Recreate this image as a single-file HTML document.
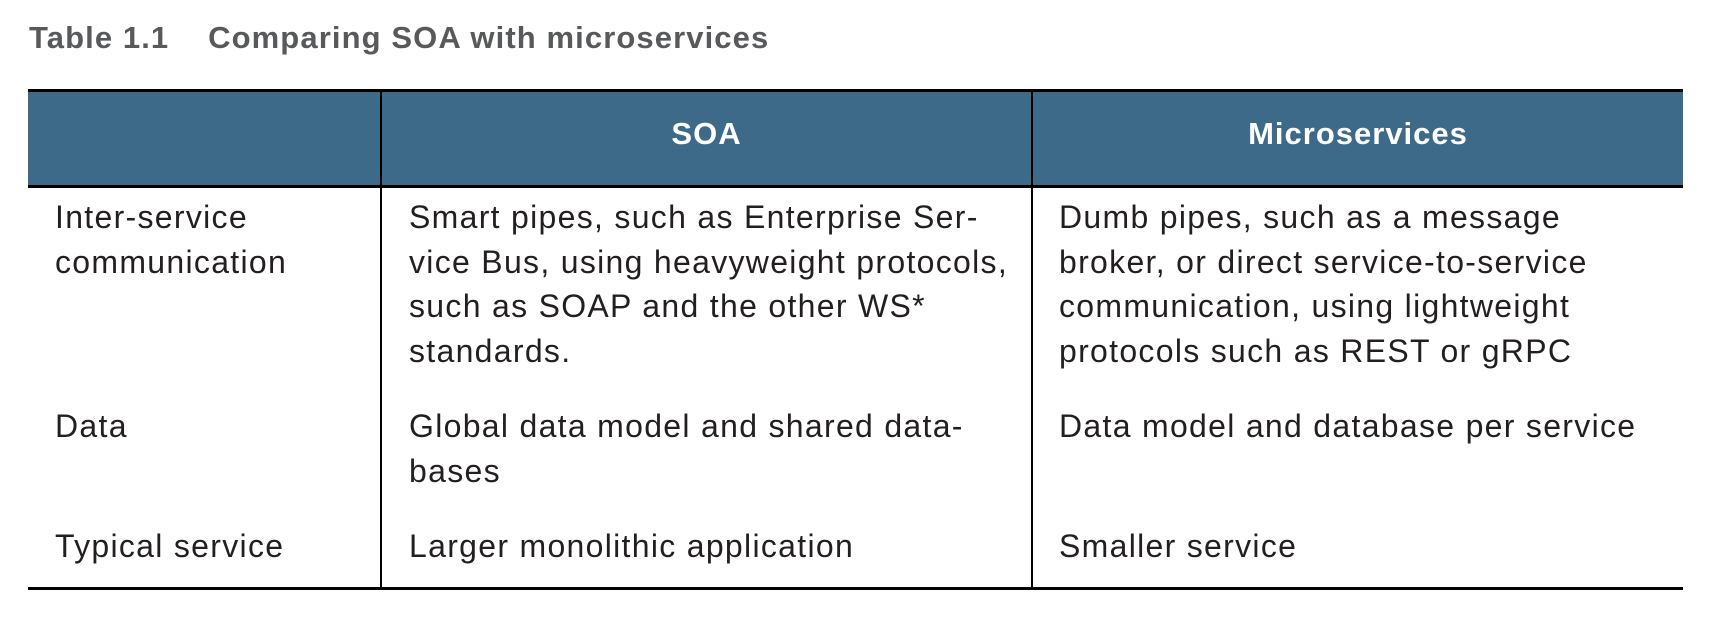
<!DOCTYPE html>
<html><head><style>
body{margin:0;width:1710px;height:618px;background:#fff;position:relative;overflow:hidden;font-family:"Liberation Sans",sans-serif;color:#231f20}
.a{position:absolute}
.t{position:absolute;font-size:32px;letter-spacing:1.3px;line-height:44.7px;white-space:nowrap}
</style></head><body>
<div class="a" style="left:29px;top:20px;font-size:31px;letter-spacing:1.1px;font-weight:bold;color:#58595b;white-space:nowrap">Table 1.1&nbsp;&nbsp;&nbsp; Comparing SOA with microservices</div>
<div class="a" style="left:28px;top:89px;width:1655px;height:93px;background:#3d6a88;border-top:3px solid #000;border-bottom:3px solid #000"></div>
<div class="a" style="left:380px;top:89px;width:2px;height:500px;background:#000"></div>
<div class="a" style="left:1031px;top:89px;width:2px;height:500px;background:#000"></div>
<div class="a" style="left:28px;top:587px;width:1655px;height:3px;background:#000"></div>
<div class="a" style="left:382px;top:116px;width:649px;text-align:center;color:#fff;font-weight:bold;font-size:31px;letter-spacing:1px">SOA</div>
<div class="a" style="left:1033px;top:116px;width:650px;text-align:center;color:#fff;font-weight:bold;font-size:31px;letter-spacing:1px">Microservices</div>
<div class="t" style="left:55px;top:195px">Inter-service<br>communication</div>
<div class="t" style="left:409px;top:195px">Smart pipes, such as Enterprise Ser-<br>vice Bus, using heavyweight protocols,<br>such as SOAP and the other WS*<br>standards.</div>
<div class="t" style="left:1059px;top:195px">Dumb pipes, such as a message<br>broker, or direct service-to-service<br>communication, using lightweight<br>protocols such as REST or gRPC</div>
<div class="t" style="left:55px;top:404px">Data</div>
<div class="t" style="left:409px;top:404px">Global data model and shared data-<br>bases</div>
<div class="t" style="left:1059px;top:404px">Data model and database per service</div>
<div class="t" style="left:55px;top:524px">Typical service</div>
<div class="t" style="left:409px;top:524px">Larger monolithic application</div>
<div class="t" style="left:1059px;top:524px">Smaller service</div>
</body></html>
